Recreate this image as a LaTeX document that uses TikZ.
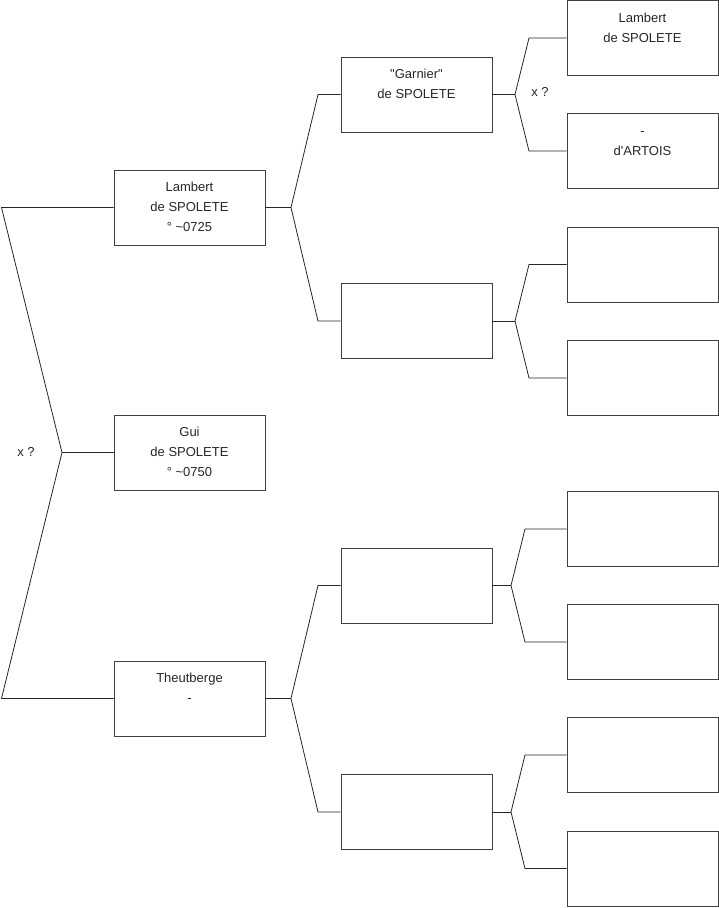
\documentclass[tikz,border=0pt]{standalone}
\usepackage{fontspec}
\setmainfont{Liberation Sans}
\begin{document}
\begin{tikzpicture}[x=1pt,y=-1pt,
  person/.style={draw=black!75, line width=0.9pt, minimum width=151pt, minimum height=75pt,
    inner sep=0pt, align=center, font=\fontsize{13}{20}\selectfont, text=black!85},
  link/.style={draw=black!85, line width=0.8pt},
  lbl/.style={font=\fontsize{13}{15}\selectfont, text=black!85}]
\useasboundingbox (0,0) rectangle (719,908);
% generation 1
\node[person] (p1) at (189.5,207.5) {\strut Lambert\\de SPOLETE\\° \textasciitilde0725\strut};
\node[person] (p2) at (189.5,452.5) {\strut Gui\\de SPOLETE\\° \textasciitilde0750\strut};
\node[person] (p3) at (189.5,698.5) {\strut Theutberge\\-\\\strut};
% generation 2
\node[person] (g1) at (416.5,94.5) {\strut\textquotedbl Garnier\textquotedbl\\de SPOLETE\\\strut};
\node[person] (g2) at (416.5,321) {};
\node[person] (g3) at (416.5,585.5) {};
\node[person] (g4) at (416.5,812) {};
% generation 3
\node[person] (h1) at (642.5,38) {\strut Lambert\\de SPOLETE\\\strut};
\node[person] (h2) at (642.5,151) {\strut -\\d\textquotesingle ARTOIS\\\strut};
\node[person] (h3) at (642.5,264.5) {};
\node[person] (h4) at (642.5,378) {};
\node[person] (h5) at (642.5,529) {};
\node[person] (h6) at (642.5,642) {};
\node[person] (h7) at (642.5,755) {};
\node[person] (h8) at (642.5,868.5) {};
% fork coordinates
\coordinate (f0) at (62,452.5);
\coordinate (a1) at (1.5,207.5);
\coordinate (a3) at (1.5,698.5);
\coordinate (f1) at (291,207.5);
\coordinate (b1) at (318,94.5);
\coordinate (b2) at (318,321);
\coordinate (f3) at (291,698.5);
\coordinate (b3) at (318,585.5);
\coordinate (b4) at (318,812);
\coordinate (k1) at (515,94.5);
\coordinate (c1) at (529,38);
\coordinate (c2) at (529,151);
\coordinate (k2) at (515,321);
\coordinate (c3) at (529,264.5);
\coordinate (c4) at (529,378);
\coordinate (k3) at (511,585.5);
\coordinate (c5) at (525,529);
\coordinate (c6) at (525,642);
\coordinate (k4) at (511,812);
\coordinate (c7) at (525,755);
\coordinate (c8) at (525,868.5);
% connectors
\draw[link] (p1.west) -- (a1) -- (f0) -- (a3) -- (p3.west);
\draw[link] (f0) -- (p2.west);
\draw[link] (p1.east) -- (f1);
\draw[link] (g1.west) -- (b1) -- (f1) -- (b2) -- (g2.west);
\draw[link] (p3.east) -- (f3);
\draw[link] (g3.west) -- (b3) -- (f3) -- (b4) -- (g4.west);
\draw[link] (g1.east) -- (k1);
\draw[link] (h1.west) -- (c1) -- (k1) -- (c2) -- (h2.west);
\draw[link] (g2.east) -- (k2);
\draw[link] (h3.west) -- (c3) -- (k2) -- (c4) -- (h4.west);
\draw[link] (g3.east) -- (k3);
\draw[link] (h5.west) -- (c5) -- (k3) -- (c6) -- (h6.west);
\draw[link] (g4.east) -- (k4);
\draw[link] (h7.west) -- (c7) -- (k4) -- (c8) -- (h8.west);
% labels
\node[lbl] (x1) at (26,452) {x ?};
\node[lbl] (x2) at (540,92) {x ?};
\end{tikzpicture}
\end{document}
